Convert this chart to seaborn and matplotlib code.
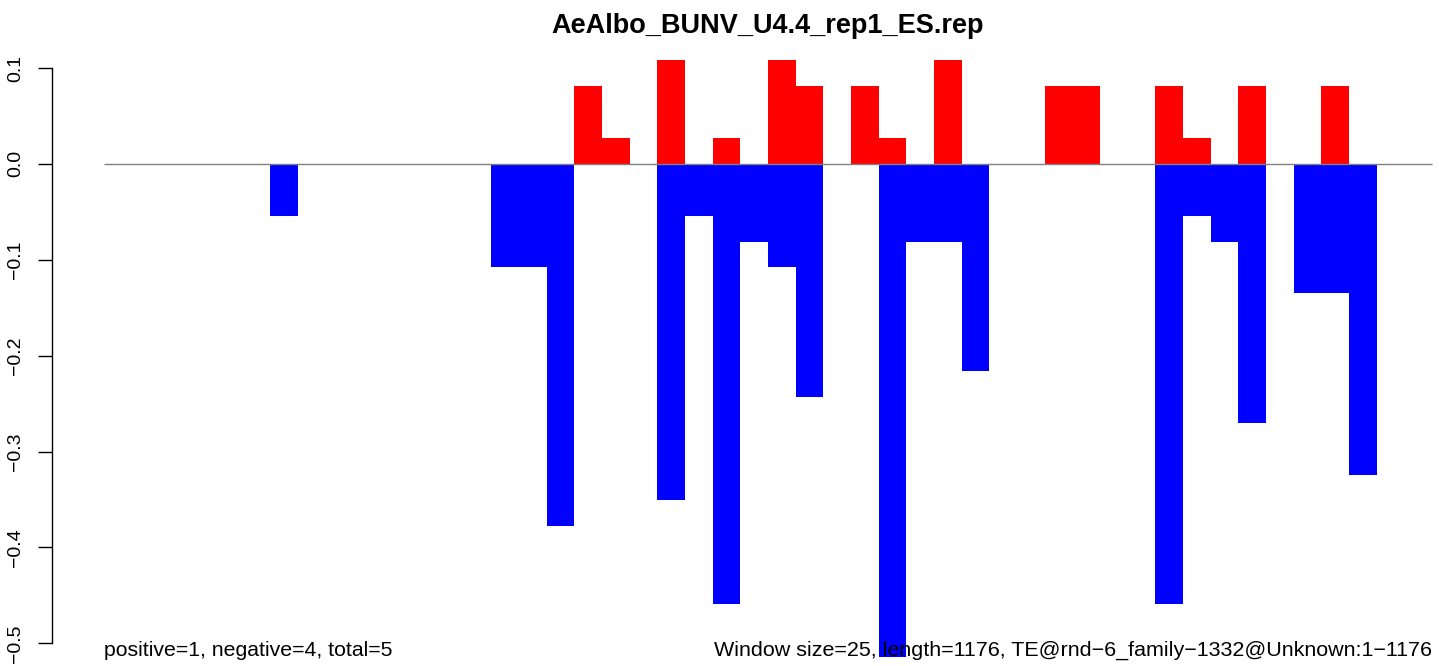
import matplotlib
matplotlib.use("Agg")
import matplotlib.pyplot as plt
import seaborn as sns
import numpy as np
import pandas as pd

# ---- data (48 windows of size 25) ----
windows = list(range(48))
positive = [0, 0, 0, 0, 0, 0, 0, 0, 0, 0,
            0, 0, 0, 0, 0, 0, 0, 0.081, 0.027, 0,
            0.108, 0, 0.027, 0, 0.108, 0.081, 0, 0.081, 0.027, 0,
            0.108, 0, 0, 0, 0.081, 0.081, 0, 0, 0.081, 0.027,
            0, 0.081, 0, 0, 0.081, 0, 0, 0]
negative = [0, 0, 0, 0, 0, 0, -0.054, 0, 0, 0,
            0, 0, 0, 0, -0.108, -0.108, -0.378, 0, 0, 0,
            -0.351, -0.054, -0.459, -0.081, -0.108, -0.243, 0, 0, -0.514, -0.081,
            -0.081, -0.216, 0, 0, 0, 0, 0, 0, -0.459, -0.054,
            -0.081, -0.270, 0, -0.135, -0.135, -0.324, 0, 0]
ytick_values = [0.1, 0.0, -0.1, -0.2, -0.3, -0.4, -0.5]
ytick_labels = ["0.1", "0.0", "\u22120.1", "\u22120.2", "\u22120.3", "\u22120.4", "\u22120.5"]
title = "AeAlbo_BUNV_U4.4_rep1_ES.rep"
left_note = "positive=1, negative=4, total=5"
right_note = "Window size=25, length=1176, TE@rnd\u22126_family\u22121332@Unknown:1\u22121176"

sns.set_style("white")
plt.rcParams["font.family"] = ["Liberation Sans", "DejaVu Sans"]
plt.rcParams["text.color"] = "black"

W, H = 1439, 666
fig = plt.figure(figsize=(W / 100, H / 100), dpi=100)
ax = fig.add_axes([52 / W, 0, (W - 52) / W, 1])

df = pd.DataFrame({"window": windows, "pos": positive, "neg": negative})
sns.barplot(data=df, x="window", y="pos", native_scale=True, width=1,
            color="#ff0000", saturation=1, errorbar=None, linewidth=0,
            edgecolor="none", ax=ax)
sns.barplot(data=df, x="window", y="neg", native_scale=True, width=1,
            color="#0000ff", saturation=1, errorbar=None, linewidth=0,
            edgecolor="none", ax=ax)

n = len(windows)
ax.hlines(0, -0.5, n - 0.5, color="#808080", linewidth=1.0, zorder=5)

# scale: 27.667 px per window, 958.8 px per unit y, zero at y=163.9 px
pxw = (1432 - 104) / n
ax.set_xlim(-0.5 - 52 / pxw, n - 0.5 + 7 / pxw)
ypu = 958.8
y0 = 163.9
ax.set_ylim((y0 - H) / ypu, y0 / ypu)

for s in ["top", "right", "bottom"]:
    ax.spines[s].set_visible(False)
ax.spines["left"].set_bounds(-0.5, 0.1)
ax.spines["left"].set_linewidth(1.0)
ax.spines["left"].set_color("black")
ax.set_xticks([])
ax.set_yticks(ytick_values)
ax.set_yticklabels(ytick_labels, rotation=90, va="center", fontsize=14)
ax.tick_params(axis="y", direction="out", length=10, width=1.0, pad=10,
               colors="black", labelcolor="black", left=True)
ax.set_xlabel("")
ax.set_ylabel("")
ax.grid(False)

ax.text(-0.5, -0.507, left_note, ha="left", va="center", fontsize=15.3, color="black")
ax.text(n - 0.5, -0.507, right_note, ha="right", va="center", fontsize=15.45, color="black")
fig.text(768 / W, 1 - 26 / H, title, ha="center", va="center", fontsize=19.5,
         fontweight="bold", color="black")

fig.savefig("out.png", dpi=100)
